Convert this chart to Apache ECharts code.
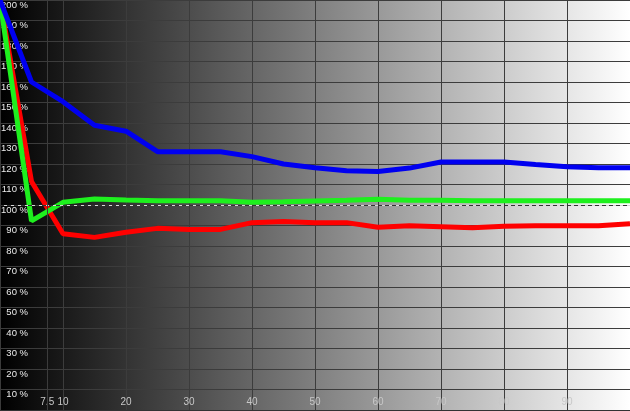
<!DOCTYPE html>
<html>
<head>
<meta charset="utf-8">
<script src="https://cdn.jsdelivr.net/npm/echarts@6/dist/echarts.min.js"></script>
<style>html,body{margin:0;padding:0;background:#000}#c{width:630px;height:411px}</style>
</head>
<body>
<div id="c"></div>
<script>
// Stimulus level (% of full scale)
const levels = [0, 5, 10, 15, 20, 25, 30, 35, 40, 45, 50, 55, 60, 65, 70, 75, 80, 85, 90, 95, 100];
// Channel levels relative to reference (%)
const redValues   = [200, 111.5, 86, 84.2, 86.7, 88.6, 88.1, 88.1, 91.4, 91.9, 91.4, 91.4, 89.1, 89.9, 89.4, 88.9, 89.6, 89.9, 89.9, 89.9, 90.9];
const greenValues = [200, 92.3, 101.3, 102.9, 102.4, 102.1, 102.1, 102.1, 101.3, 101.6, 102, 102.3, 102.8, 102.3, 102.3, 102.1, 102.1, 102.1, 102.1, 102.1, 102.1];
const blueValues  = [200, 160, 150.4, 138.9, 136, 126, 126, 126, 123.6, 120, 118.2, 116.7, 116.3, 118, 121, 121, 121, 119.7, 118.7, 118.2, 118.2];
// Axis ticks
const xTicks = [7.5, 10, 20, 30, 40, 50, 60, 70, 80, 90];
const yMin = 0, yMax = 200, yStep = 10;
const refLevel = 100;

const pairs = vals => levels.map((x, i) => [x, vals[i]]);
const gridColor = '#3c3c3c';

const chart = echarts.init(document.getElementById('c'), null, {renderer: 'canvas'});
chart.setOption({
  animation: false,
  backgroundColor: {
    type: 'linear', x: 0, y: 0, x2: 1, y2: 0,
    colorStops: [{offset: 0, color: '#000000'}, {offset: 1, color: '#ffffff'}]
  },
  grid: {left: 0, right: 0, top: 0, bottom: 1, containLabel: false, outerBoundsMode: 'none'},
  xAxis: {
    type: 'value', min: 0, max: 100,
    axisLine: {show: true, onZero: false, lineStyle: {color: '#333', width: 1}},
    axisTick: {show: false, customValues: xTicks},
    axisLabel: {
      inside: true, margin: 3, customValues: xTicks,
      color: '#c8c8c8', fontSize: 10, fontFamily: 'Liberation Sans, Arial, sans-serif',
      formatter: v => String(v)
    },
    splitLine: {show: true, lineStyle: {color: gridColor, width: 1}}
  },
  yAxis: {
    type: 'value', min: yMin, max: yMax, interval: yStep,
    axisLine: {show: true, lineStyle: {color: '#3a3a3a', width: 2}},
    axisTick: {show: false},
    axisLabel: {
      inside: true, margin: 28, align: 'right', verticalAlign: 'top',
      showMinLabel: false,
      color: '#ececec', fontSize: 9.5, fontFamily: 'Liberation Sans, Arial, sans-serif',
      formatter: v => (v === 0 ? '' : v + ' %')
    },
    splitLine: {show: true, lineStyle: {color: gridColor, width: 1}}
  },
  series: [
    {
      type: 'line', data: pairs(redValues), showSymbol: false, z: 3,
      lineStyle: {color: '#ff0000', width: 5}, itemStyle: {color: '#ff0000'},
      markLine: {
        silent: true, symbol: 'none', label: {show: false}, animation: false,
        data: [
          {yAxis: refLevel, lineStyle: {color: '#d8d8d8', width: 1, type: 'solid'}},
          {xAxis: xTicks[0], lineStyle: {color: gridColor, width: 1, type: 'solid'}}
        ]
      }
    },
    {
      type: 'line', data: pairs(greenValues), showSymbol: false, z: 4,
      lineStyle: {color: '#1ef01e', width: 5}, itemStyle: {color: '#1ef01e'},
      markLine: {
        silent: true, symbol: 'none', label: {show: false}, animation: false,
        data: [
          {yAxis: refLevel, lineStyle: {color: '#333333', width: 1, type: [4, 3]}}
        ]
      }
    },
    {
      type: 'line', data: pairs(blueValues), showSymbol: false, z: 5,
      lineStyle: {color: '#0000f0', width: 5}, itemStyle: {color: '#0000f0'}
    }
  ]
});
</script>
</body>
</html>
